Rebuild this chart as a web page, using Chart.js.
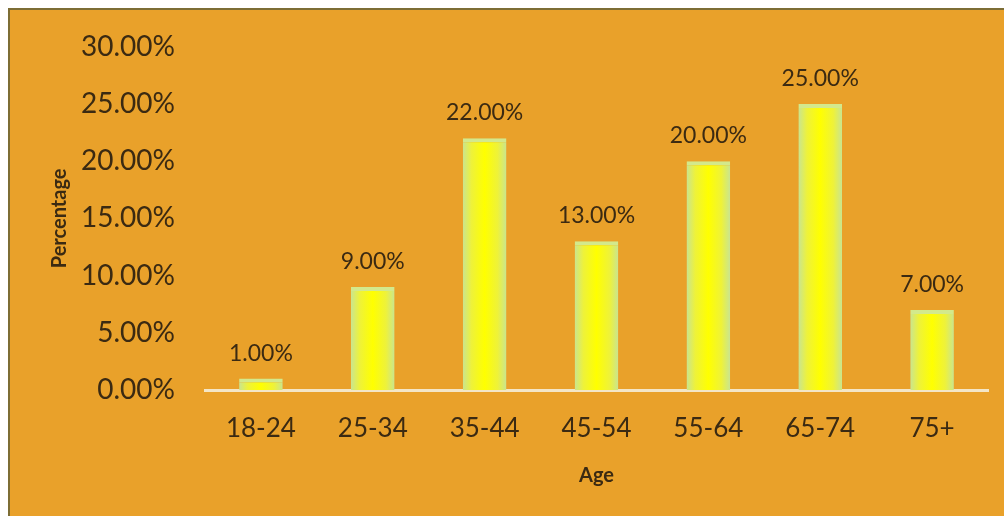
<!DOCTYPE html>
<html>
<head>
<meta charset="utf-8">
<script src="https://cdn.jsdelivr.net/npm/chart.js@4/dist/chart.umd.min.js"></script>
<style>
  html, body { margin: 0; padding: 0; background: #fff; }
  #chart { display: block; }
</style>
</head>
<body>
<canvas id="chart" width="1004" height="516"></canvas>
<script>
const ageGroups = ["18-24", "25-34", "35-44", "45-54", "55-64", "65-74", "75+"];
const percentages = [1, 9, 22, 13, 20, 25, 7];
const yMax = 30;
const yStep = 5;

const textColor = "#3b2a12";
const fontFamily = "Lato, 'Open Sans', sans-serif";
const barPct = 0.39;

// orange panel with dark edge, like the pasted picture
const panelBackground = {
  id: "panelBackground",
  beforeDraw(chart) {
    const { ctx, width, height } = chart;
    ctx.save();
    ctx.fillStyle = "#ffffff";
    ctx.fillRect(0, 0, width, height);
    ctx.fillStyle = "#e9a12a";
    ctx.fillRect(9, 9, width - 9, height - 9);
    ctx.strokeStyle = "#7d6d35";
    ctx.lineWidth = 2;
    ctx.beginPath();
    ctx.moveTo(9, height);
    ctx.lineTo(9, 9);
    ctx.lineTo(width, 9);
    ctx.stroke();
    ctx.restore();
  },
};

// value labels above each bar
const barLabels = {
  id: "barLabels",
  afterDatasetsDraw(chart) {
    const { ctx } = chart;
    const meta = chart.getDatasetMeta(0);
    ctx.save();
    ctx.fillStyle = textColor;
    ctx.font = "23px " + fontFamily;
    ctx.textAlign = "center";
    ctx.textBaseline = "alphabetic";
    meta.data.forEach((bar, i) => {
      ctx.fillText(percentages[i].toFixed(2) + "%", bar.x, bar.y - 18);
    });
    ctx.restore();
  },
};

// yellow bar with pale green glow at the sides
function barFill(context) {
  const chart = context.chart;
  const xScale = chart.scales.x;
  if (!xScale || !chart.chartArea) return "#f8f30c";
  const cx = xScale.getPixelForValue(context.dataIndex);
  const half = (xScale.width / ageGroups.length) * barPct / 2;
  const g = chart.ctx.createLinearGradient(cx - half, 0, cx + half, 0);
  g.addColorStop(0, "#c9e590");
  g.addColorStop(0.2, "#eef23a");
  g.addColorStop(0.5, "#ffff00");
  g.addColorStop(0.8, "#eef23a");
  g.addColorStop(1, "#c9e590");
  return g;
}

const ctx = document.getElementById("chart").getContext("2d");
new Chart(ctx, {
  type: "bar",
  data: {
    labels: ageGroups,
    datasets: [
      {
        data: percentages,
        backgroundColor: barFill,
        borderColor: "#d3e98c",
        borderWidth: { top: 4, left: 0, right: 0, bottom: 0 },
        barPercentage: barPct,
        categoryPercentage: 1,
      },
    ],
  },
  options: {
    responsive: false,
    animation: false,
    layout: { padding: { left: 20, right: 16, top: 44, bottom: 0 } },
    plugins: {
      legend: { display: false },
      tooltip: { enabled: false },
    },
    scales: {
      x: {
        grid: { display: false, drawTicks: false },
        border: { display: true, color: "#f4e6c6", width: 3 },
        ticks: {
          color: textColor,
          font: { family: fontFamily, size: 26 },
          padding: 23,
        },
        title: {
          display: true,
          text: "Age",
          color: textColor,
          font: { family: fontFamily, size: 20, weight: "bold" },
          padding: { top: 0, bottom: 28 },
        },
        afterFit(scale) {
          scale.height = 126;
        },
      },
      y: {
        min: 0,
        max: yMax,
        grid: { display: false, drawTicks: false },
        border: { display: false },
        ticks: {
          stepSize: yStep,
          color: textColor,
          font: { family: fontFamily, size: 28 },
          padding: 30,
          callback: (v) => v.toFixed(2) + "%",
        },
        title: {
          display: true,
          text: "Percentage",
          color: textColor,
          font: { family: fontFamily, size: 20, weight: "bold" },
          padding: { top: 28, bottom: 0 },
        },
        afterFit(scale) {
          scale.width = 185;
        },
      },
    },
  },
  plugins: [panelBackground, barLabels],
});
</script>
</body>
</html>
